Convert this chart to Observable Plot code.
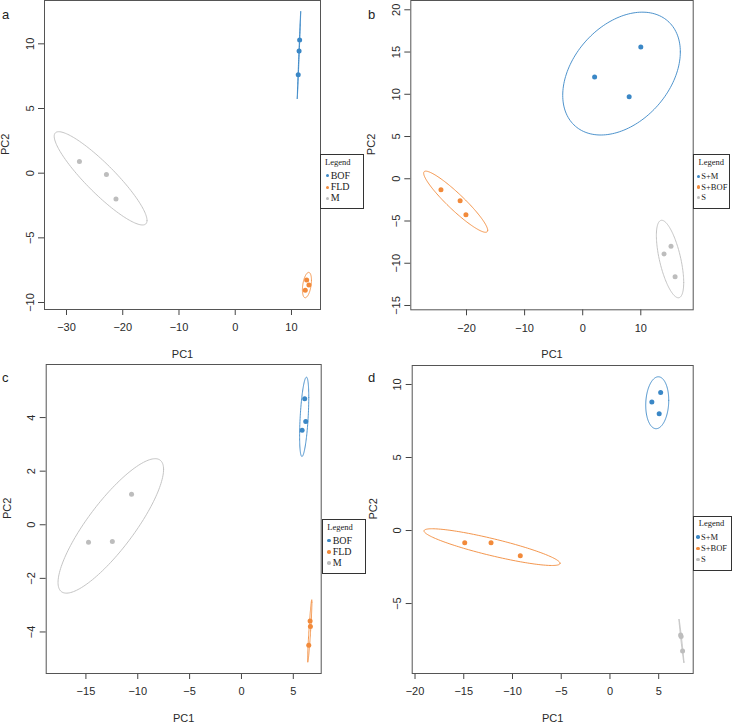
<!DOCTYPE html>
<html><head><meta charset="utf-8">
<script src="https://cdn.jsdelivr.net/npm/d3@7"></script>
<script src="https://cdn.jsdelivr.net/npm/@observablehq/plot@0.6"></script>
<style>
body{margin:0;background:#fff;}
#wrap{position:relative;width:732px;height:726px;overflow:hidden;font-family:"Liberation Sans",Arial,sans-serif;background:#fff;}
.panel{position:absolute;}
.letter{position:absolute;font-size:13px;line-height:1;color:#222;}
.legend{position:absolute;border:1px solid #333;background:#fff;box-sizing:border-box;font-family:"Liberation Serif","Times New Roman",serif;color:#222;}
.legend span{position:absolute;white-space:nowrap;line-height:1;}
.legend .dot{border-radius:50%;}
</style></head><body><div id="wrap"></div>
<script>
// ---- data ----
const groupsAC = ["BOF", "FLD", "M"];
const groupsBD = ["S+M", "S+BOF", "S"];
const palette = ["#3a87c6", "#f28a3a", "#bdbdbd"];

// panel a
const aGroup = ["BOF","BOF","BOF","FLD","FLD","FLD","M","M","M"];
const aPC1 = [11.45, 11.35, 11.2, 12.7, 13.1, 12.45, -27.7, -22.9, -21.2];
const aPC2 = [10.3, 9.45, 7.6, -8.25, -8.65, -9.05, 0.9, -0.1, -2.0];
const aXTicks = [-30, -20, -10, 0, 10];
const aYTicks = [-10, -5, 0, 5, 10];

// panel b
const bGroup = ["S+M","S+M","S+M","S+BOF","S+BOF","S+BOF","S","S","S"];
const bPC1 = [2.05, 8.0, 10.0, -24.4, -21.1, -20.1, 14.0, 15.2, 15.9];
const bPC2 = [12.05, 9.7, 15.6, -1.3, -2.6, -4.25, -8.9, -8.0, -11.6];
const bXTicks = [-20, -10, 0, 10];
const bYTicks = [-15, -10, -5, 0, 5, 10, 15, 20];

// panel c
const cGroup = ["BOF","BOF","BOF","FLD","FLD","FLD","M","M","M"];
const cPC1 = [6.1, 6.2, 5.85, 6.62, 6.65, 6.49, -14.75, -12.45, -10.6];
const cPC2 = [4.7, 3.85, 3.53, -3.59, -3.8, -4.5, -0.65, -0.62, 1.14];
const cXTicks = [-15, -10, -5, 0, 5];
const cYTicks = [-4, -2, 0, 2, 4];

// panel d
const dGroup = ["S+M","S+M","S+M","S+BOF","S+BOF","S+BOF","S","S","S"];
const dPC1 = [4.3, 5.2, 5.05, -14.9, -12.2, -9.2, 7.25, 7.3, 7.45];
const dPC2 = [8.8, 9.45, 8.0, -0.84, -0.84, -1.73, -7.15, -7.25, -8.25];
const dXTicks = [-20, -15, -10, -5, 0, 5];
const dYTicks = [-5, 0, 5, 10];

// ---- helpers ----
function rows(g, x, y) { return g.map((gg, i) => ({group: gg, x: x[i], y: y[i]})); }

// 95% normal data ellipse from sample covariance
function ellipses(data, groups, k = Math.sqrt(5.991), n = 160) {
  const out = [];
  for (const g of groups) {
    const pts = data.filter(d => d.group === g);
    const m = pts.length;
    const mx = d3.mean(pts, d => d.x), my = d3.mean(pts, d => d.y);
    let sxx = 0, syy = 0, sxy = 0;
    for (const p of pts) { sxx += (p.x - mx) ** 2; syy += (p.y - my) ** 2; sxy += (p.x - mx) * (p.y - my); }
    sxx /= (m - 1); syy /= (m - 1); sxy /= (m - 1);
    const a = Math.sqrt(sxx), b = sxy / a, c = Math.sqrt(Math.max(0, syy - b * b));
    for (let i = 0; i <= n; i++) {
      const t = 2 * Math.PI * i / n, u = Math.cos(t), v = Math.sin(t);
      out.push({group: g, x: mx + k * a * u, y: my + k * (b * u + c * v)});
    }
  }
  return out;
}

const fmt = d => (d < 0 ? "\u2212" : "") + Math.abs(d);

function panel(cfg) {
  const data = rows(cfg.group, cfg.pc1, cfg.pc2);
  const ell = ellipses(data, cfg.groups);
  return Plot.plot({
    width: 366, height: 363,
    marginLeft: cfg.m[0], marginRight: cfg.m[1], marginTop: cfg.m[2], marginBottom: cfg.m[3],
    x: {domain: cfg.xd}, y: {domain: cfg.yd},
    color: {domain: cfg.groups, range: palette},
    style: {fontFamily: "'Liberation Sans', Arial, sans-serif", fontSize: "11px", color: "#2a2a2a", background: "transparent", overflow: "visible"},
    marks: [
      Plot.axisX({ticks: cfg.xt, tickSize: 6, tickPadding: 8, tickFormat: fmt, label: null, stroke: "#444"}),
      Plot.axisY({ticks: cfg.yt, tickSize: 6, tickPadding: 5, tickRotate: -90, tickFormat: fmt, label: null, stroke: "#444"}),
      Plot.line(ell, {x: "x", y: "y", z: "group", stroke: "group", strokeWidth: 0.9}),
      Plot.dot(data, {x: "x", y: "y", fill: "group", r: 2.5}),
      Plot.frame({stroke: "#555", strokeWidth: 1}),
      Plot.text(["PC1"], {text: d => d, frameAnchor: "bottom", dy: 48, fontSize: 11}),
      Plot.text(["PC2"], {text: d => d, frameAnchor: "left", dx: -39, rotate: -90, fontSize: 11})
    ]
  });
}

const panels = [
  {letter: "a", left: 0, top: 0, group: aGroup, pc1: aPC1, pc2: aPC2, groups: groupsAC, xt: aXTicks, yt: aYTicks,
   m: [44, 46, 0, 54], xd: [-33.91, 15.16], yd: [-10.54, 13.35],
   leg: {box: [320, 154, 44, 55], title: [325, 162.3], tf: 8.5, ef: 10, dotx: 327.7, textx: 330.7, ys: [175.7, 187.3, 198.3]}},
  {letter: "b", left: 366, top: 0, group: bGroup, pc1: bPC1, pc2: bPC2, groups: groupsBD, xt: bXTicks, yt: bYTicks,
   m: [44.3, 39.3, 0, 53.7], xd: [-29.59, 19.02], yd: [-15.51, 21.1],
   leg: {box: [693, 154, 37, 55], title: [698.5, 162.7], tf: 8.5, ef: 8.5, dotx: 698.7, textx: 701.3, ys: [176.7, 187, 197.3]}},
  {letter: "c", left: 0, top: 363, group: cGroup, pc1: cPC1, pc2: cPC2, groups: groupsAC, xt: cXTicks, yt: cYTicks,
   m: [45.7, 45.3, 1, 53], xd: [-18.83, 7.69], yd: [-5.55, 5.98],
   leg: {box: [321.7, 518.7, 44, 55], title: [327.3, 527.3], tf: 8.5, ef: 10, dotx: 329.3, textx: 332.7, ys: [540.7, 552.3, 563.3]}},
  {letter: "d", left: 366, top: 363, group: dGroup, pc1: dPC1, pc2: dPC2, groups: groupsBD, xt: dXTicks, yt: dYTicks,
   m: [45.7, 39.3, 2, 53], xd: [-20.29, 8.54], yd: [-9.79, 11.3],
   leg: {box: [693.3, 516, 38.4, 54.7], title: [698.7, 523.3], tf: 8.5, ef: 8.5, dotx: 698, textx: 701, ys: [537, 548.7, 559.7]}}
];

const wrap = document.getElementById("wrap");
for (const p of panels) {
  const div = document.createElement("div");
  div.className = "panel";
  div.style.left = p.left + "px"; div.style.top = p.top + "px";
  div.appendChild(panel(p));
  wrap.appendChild(div);

  const L = document.createElement("div");
  L.className = "letter"; L.textContent = p.letter;
  L.style.left = (p.left + 2) + "px"; L.style.top = (p.top + 7.5) + "px";
  wrap.appendChild(L);

  const g = p.leg;
  const box = document.createElement("div");
  box.className = "legend";
  const [bx, by, bw, bh] = g.box;
  box.style.left = bx + "px"; box.style.top = by + "px"; box.style.width = bw + "px"; box.style.height = bh + "px";
  const t = document.createElement("span");
  t.textContent = "Legend"; t.style.fontSize = g.tf + "px";
  t.style.left = (g.title[0] - bx - 1) + "px"; t.style.top = (g.title[1] - by - 1 - 0.55 * g.tf) + "px";
  box.appendChild(t);
  p.groups.forEach((name, i) => {
    const dot = document.createElement("span");
    dot.className = "dot";
    const r = 1.8;
    dot.style.width = dot.style.height = (2 * r) + "px";
    dot.style.background = palette[i];
    dot.style.left = (g.dotx - bx - 1 - r) + "px"; dot.style.top = (g.ys[i] - by - 1 - r) + "px";
    box.appendChild(dot);
    const s = document.createElement("span");
    s.textContent = name; s.style.fontSize = g.ef + "px";
    s.style.left = (g.textx - bx - 1) + "px"; s.style.top = (g.ys[i] - by - 1 - 0.5 * g.ef) + "px";
    box.appendChild(s);
  });
  wrap.appendChild(box);
}
</script></body></html>
